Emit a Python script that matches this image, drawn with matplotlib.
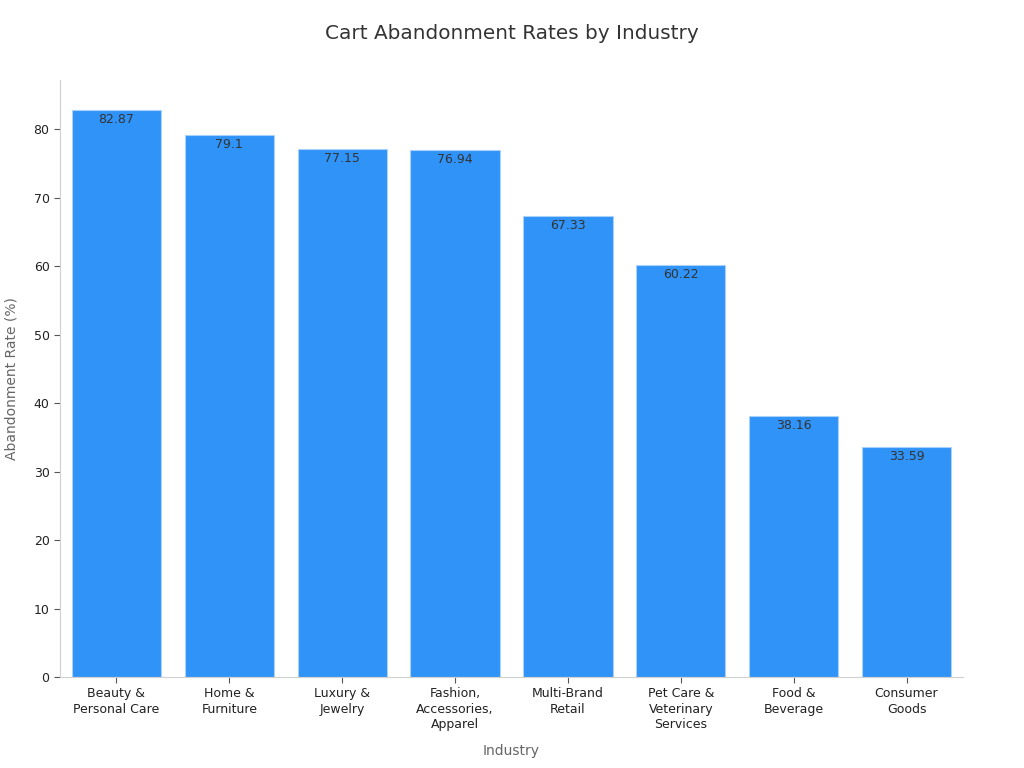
import matplotlib
matplotlib.use('Agg')
from matplotlib import pyplot as plt

industries = ['Beauty &\nPersonal Care', 'Home &\nFurniture', 'Luxury &\nJewelry',
              'Fashion,\nAccessories,\nApparel', 'Multi-Brand\nRetail',
              'Pet Care &\nVeterinary\nServices', 'Food &\nBeverage', 'Consumer\nGoods']
rates = [82.87, 79.1, 77.15, 76.94, 67.33, 60.22, 38.16, 33.59]
yticks = [0, 10, 20, 30, 40, 50, 60, 70, 80]

fig = plt.figure(figsize=(10.24, 7.68), dpi=100)
ax = fig.add_axes([0.0586, 0.1185, 0.8818, 0.7775])

x = list(range(len(industries)))
bars = ax.bar(x, rates, width=0.79, color='#3093f8', edgecolor='#a9d2fb', linewidth=0.8)
for b, v in zip(bars, rates):
    ax.text(b.get_x() + b.get_width() / 2, v - 0.45, f'{v:g}', ha='center', va='top',
            fontsize=9, color='#333333')

ax.set_xlim(-0.5, len(industries) - 0.5)
ax.set_ylim(0, 87.2)
ax.set_xticks(x)
ax.set_xticklabels(industries, fontsize=9, color='#222222', linespacing=1.25)
ax.set_yticks(yticks)
ax.tick_params(axis='y', labelsize=9, colors='#222222', length=4, color='#555555')
ax.tick_params(axis='x', length=4, color='#555555')
for s in ['top', 'right']:
    ax.spines[s].set_visible(False)
for s in ['left', 'bottom']:
    ax.spines[s].set_color('#d0d0d0')

ax.set_xlabel('Industry', fontsize=10, color='#666666', labelpad=9)
ax.set_ylabel('Abandonment Rate (%)', fontsize=10, color='#666666', labelpad=11)
fig.text(0.5, 0.957, 'Cart Abandonment Rates by Industry', ha='center', va='center',
         fontsize=14.4, color='#333333')

fig.savefig('out.png', dpi=100)
